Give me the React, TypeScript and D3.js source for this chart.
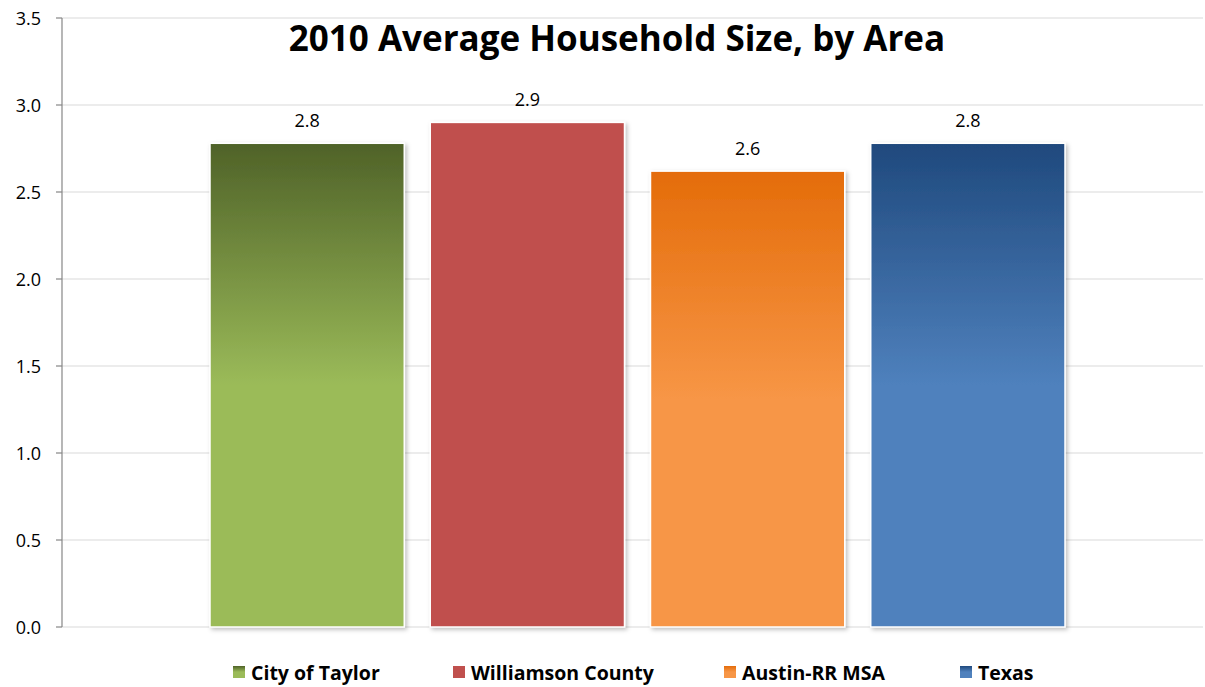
import React from "react";
import * as d3 from "d3";

const series = ["City of Taylor", "Williamson County", "Austin-RR MSA", "Texas"];
const values = [2.78, 2.9, 2.62, 2.78];
const labels = ["2.8", "2.9", "2.6", "2.8"];
const yTicks = [0, 0.5, 1, 1.5, 2, 2.5, 3, 3.5];
const darkColors = ["#4f6228", "#c0504d", "#e46c0a", "#1f497d"];
const lightColors = ["#9bbb59", "#c0504d", "#f79646", "#4f81bd"];
const title = "2010 Average Household Size, by Area";

const W = 1205;
const H = 687;
const FONT = "Open Sans, Liberation Sans, sans-serif";

export default function App() {
  const y = d3.scaleLinear().domain([0, 3.5]).range([627, 18]);
  const plotLeft = 62;
  const plotRight = 1203;
  const x = d3.scaleBand<string>().domain(series).range([210, 1065]).paddingInner(0.118).paddingOuter(0);
  const legendX = [233, 453, 724, 960];

  return (
    <div style={{ position: "fixed", left: 0, top: 0 }}>
      <svg width={W} height={H} style={{ display: "block", background: "#fff" }}>
        <defs>
          {series.map((s, i) => (
            <linearGradient key={s} id={`g${i}`} x1="0" y1="0" x2="0" y2="1">
              <stop offset="0" stopColor={darkColors[i]} />
              <stop offset="0.5" stopColor={lightColors[i]} />
              <stop offset="1" stopColor={lightColors[i]} />
            </linearGradient>
          ))}
          <filter id="sh" x="-10%" y="-10%" width="120%" height="120%">
            <feDropShadow dx="2" dy="2" stdDeviation="2" floodColor="#000" floodOpacity="0.25" />
          </filter>
        </defs>
        {yTicks.map((t) => (
          <g key={t}>
            <line x1={plotLeft} x2={plotRight} y1={y(t)} y2={y(t)} stroke="#d9d9d9" strokeWidth={1.2} />
            <line x1={56} x2={plotLeft} y1={y(t)} y2={y(t)} stroke="#868686" strokeWidth={1.2} />
            <text x={41} y={y(t) + 6.5} textAnchor="end" fontFamily={FONT} fontSize={18} fill="#000">
              {d3.format(".1f")(t)}
            </text>
          </g>
        ))}
        <line x1={plotLeft} x2={plotLeft} y1={y(3.5)} y2={y(0)} stroke="#868686" strokeWidth={1.2} />
        {series.map((s, i) => (
          <g key={s}>
            <rect
              x={x(s)!}
              y={y(values[i])}
              width={x.bandwidth()}
              height={y(0) - y(values[i])}
              fill={`url(#g${i})`}
              stroke="#fff"
              strokeWidth={1.5}
              filter="url(#sh)"
            />
            <text
              x={x(s)! + x.bandwidth() / 2}
              y={y(values[i]) - 16}
              textAnchor="middle"
              fontFamily={FONT}
              fontSize={18}
              fill="#000"
            >
              {labels[i]}
            </text>
          </g>
        ))}
        <text x={617} y={51} textAnchor="middle" fontFamily={FONT} fontWeight="bold" fontSize={35} fill="#000">
          {title}
        </text>
        {series.map((s, i) => (
          <g key={s}>
            <rect x={legendX[i]} y={666} width={12} height={12} fill={`url(#g${i})`} />
            <text x={legendX[i] + 18} y={679.5} fontFamily={FONT} fontWeight="bold" fontSize={19.5} fill="#000">
              {s}
            </text>
          </g>
        ))}
      </svg>
    </div>
  );
}
